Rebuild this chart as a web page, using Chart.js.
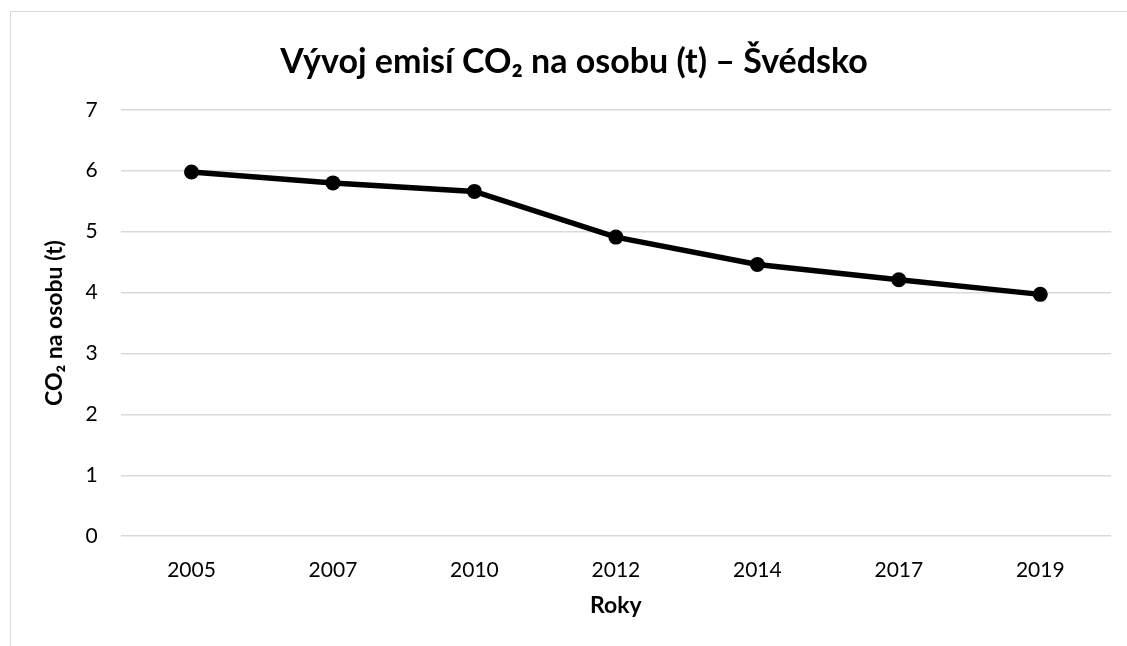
<!DOCTYPE html>
<html>
<head>
<meta charset="utf-8">
<script src="https://cdn.jsdelivr.net/npm/chart.js@4.4.1/dist/chart.umd.min.js"></script>
<style>
  html, body { margin: 0; padding: 0; background: #fff; overflow: hidden; }
  #wrap { position: relative; width: 1127px; height: 646px; }
  #frame { position: absolute; left: 10px; top: 11px; width: 1200px; height: 700px; border: 1px solid #d9d9d9; box-sizing: border-box; }
  canvas { position: absolute; left: 0; top: 0; }
</style>
</head>
<body>
<div id="wrap">
  <div id="frame"></div>
  <canvas id="co2Chart" width="1127" height="646"></canvas>
</div>
<script>
// Data
const years = ["2005", "2007", "2010", "2012", "2014", "2017", "2019"];
const co2PerPerson = [5.98, 5.80, 5.66, 4.91, 4.46, 4.21, 3.97];
const yTicks = [0, 1, 2, 3, 4, 5, 6, 7];

const chartTitle = "Vývoj emisí CO₂ na osobu (t) – Švédsko";
const xTitle = "Roky";
const yTitle = "CO₂ na osobu (t)";

const fontFamily = "Lato, 'Open Sans', sans-serif";

document.addEventListener("DOMContentLoaded", function () {
    let ctx = document.getElementById("co2Chart").getContext("2d");

    new Chart(ctx, {
        type: "line",
        data: {
            labels: years,
            datasets: [{
                label: yTitle,
                data: co2PerPerson,
                borderColor: "#000",
                backgroundColor: "#000",
                borderWidth: 5.5,
                pointRadius: 7.5,
                pointBackgroundColor: "#000",
                pointBorderColor: "#000",
                pointBorderWidth: 0,
                fill: false,
                tension: 0
            }]
        },
        options: {
            responsive: false,
            animation: false,
            layout: {
                padding: { left: 37, right: 16, top: 42, bottom: 23 }
            },
            plugins: {
                legend: { display: false },
                tooltip: { enabled: false },
                title: {
                    display: true,
                    text: chartTitle,
                    color: "#000",
                    font: { family: fontFamily, size: 34, weight: "bold" },
                    padding: { top: 0, bottom: 27 }
                }
            },
            scales: {
                x: {
                    offset: true,
                    grid: { display: false, drawTicks: false },
                    border: { display: false },
                    ticks: {
                        color: "#000",
                        padding: 21,
                        font: { family: fontFamily, size: 21 }
                    },
                    title: {
                        display: true,
                        text: xTitle,
                        color: "#000",
                        font: { family: fontFamily, size: 23, weight: "bold" },
                        padding: { top: -12 }
                    }
                },
                y: {
                    min: 0,
                    max: 7,
                    afterBuildTicks: function (axis) {
                        axis.ticks = yTicks.map(v => ({ value: v }));
                    },
                    grid: { color: "#d9d9d9", lineWidth: 1.5, drawTicks: false },
                    border: { display: false },
                    ticks: {
                        color: "#000",
                        padding: 23,
                        font: { family: fontFamily, size: 21 }
                    },
                    title: {
                        display: true,
                        text: yTitle,
                        color: "#000",
                        font: { family: fontFamily, size: 23, weight: "bold" },
                        padding: { bottom: -6 }
                    }
                }
            }
        }
    });
});
</script>
</body>
</html>
